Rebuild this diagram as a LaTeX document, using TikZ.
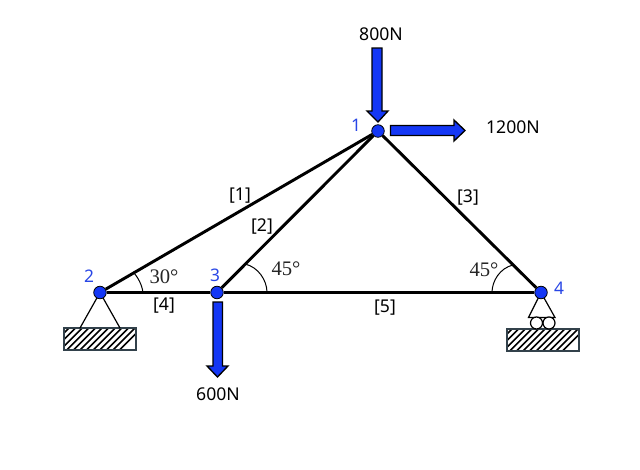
\documentclass[tikz,border=0pt]{standalone}
\usepackage{fontspec}
\setmainfont{Noto Sans}
\newfontfamily\angfont{Liberation Serif}
\definecolor{nodeblue}{RGB}{20,55,245}
\definecolor{labelblue}{RGB}{40,70,230}
\definecolor{hatchedge}{RGB}{50,65,75}
\tikzset{
  x=0.75pt,y=-0.75pt,
  joint/.style={circle,draw=black,fill=nodeblue,line width=0.6pt,minimum size=9.4pt,inner sep=0pt},
  member/.style={line width=2.2pt,black},
  support/.style={line width=0.9pt,black},
  roller/.style={circle,draw=black,line width=0.9pt,fill=white,minimum size=9pt,inner sep=0pt},
  force/.style={draw=black,fill=nodeblue,line width=1pt,line join=miter},
  anglearc/.style={line width=0.75pt,black},
  lab/.style={font=\fontsize{13.2}{15}\selectfont,text=black,inner sep=0pt},
  numlab/.style={font=\fontsize{13}{15}\selectfont,text=labelblue,inner sep=0pt},
  anglab/.style={font=\angfont\fontsize{15.5}{17}\selectfont,text=black!85,inner sep=0pt},
  groundbox/.style={draw=hatchedge,line width=0.8pt},
  hatch/.style={line width=1.2pt,black}
}
\begin{document}
\begin{tikzpicture}
\useasboundingbox (0,0) rectangle (640,469);
\fill[white] (0,0) rectangle (640,469);
% ground blocks
\begin{scope}
\clip (64,328) rectangle (136,350);
\foreach \i in {0,6.6,...,108}{\draw[hatch] (\i+40,324) -- (\i+10,354);}
\end{scope}
\draw[groundbox] (64,328) rectangle (136,350);
\begin{scope}
\clip (507,329) rectangle (579,351);
\foreach \i in {0,6.6,...,108}{\draw[hatch] (\i+483,325) -- (\i+453,355);}
\end{scope}
\draw[groundbox] (507,329) rectangle (579,351);
% supports and rollers (under the joints)
\coordinate (sa) at (80,328);
\coordinate (sb) at (120,328);
\coordinate (top2) at (100,292.5);
\draw[support] (sa) -- (top2) -- (sb);
\coordinate (ta) at (528.5,317.5);
\coordinate (tb) at (555,317.5);
\coordinate (top4) at (541,292.5);
\draw[support] (ta) -- (top4) -- (tb) -- cycle;
\node[roller] (r1) at (536.5,323) {};
\node[roller] (r2) at (549,323) {};
% joints
\node[joint] (n1) at (378,131) {};
\node[joint] (n2) at (100,292.5) {};
\node[joint] (n3) at (217,292.5) {};
\node[joint] (n4) at (541,292.5) {};
% members
\draw[member] (n1) -- (n2);
\draw[member] (n1) -- (n3);
\draw[member] (n1) -- (n4);
\draw[member] (n2) -- (n3);
\draw[member] (n3) -- (n4);
% angle arcs
\draw[anglearc] (143,292.5) .. controls (142,285) and (138,277) .. (133,272);
\draw[anglearc] (267,292.5) .. controls (267,280) and (258,267) .. (245,264);
\draw[anglearc] (492,292.5) .. controls (492,281) and (500,268) .. (513,265);
% forces
\draw[force] (372,48) -- (382,48) -- (382,111) -- (388,111) -- (378,122) -- (367,111) -- (372,111) -- cycle;
\draw[force] (390.5,125.5) -- (454,125.5) -- (454,120) -- (465,130.5) -- (454,141) -- (454,135.5) -- (390.5,135.5) -- cycle;
\draw[force] (213,302) -- (222.5,302) -- (222.5,366) -- (228,366) -- (217.5,377) -- (207,366) -- (213,366) -- cycle;
% labels
\node[lab] (f1) at (381,34) {800N};
\node[lab] (f2) at (513,127) {1200N};
\node[lab] (f3) at (218,394) {600N};
\node[lab] (m1) at (240,196) {[1]};
\node[lab] (m2) at (262,227) {[2]};
\node[lab] (m3) at (468,198) {[3]};
\node[lab] (m4) at (164,305.5) {[4]};
\node[lab] (m5) at (385,308) {[5]};
\node[numlab] (l1) at (356,125.5) {1};
\node[numlab] (l2) at (89,276.5) {2};
\node[numlab] (l3) at (215,275.5) {3};
\node[numlab] (l4) at (559,288.5) {4};
\node[anglab] (a1) at (164,277) {30°};
\node[anglab] (a2) at (286,269) {45°};
\node[anglab] (a3) at (484,270) {45°};
\end{tikzpicture}
\end{document}
